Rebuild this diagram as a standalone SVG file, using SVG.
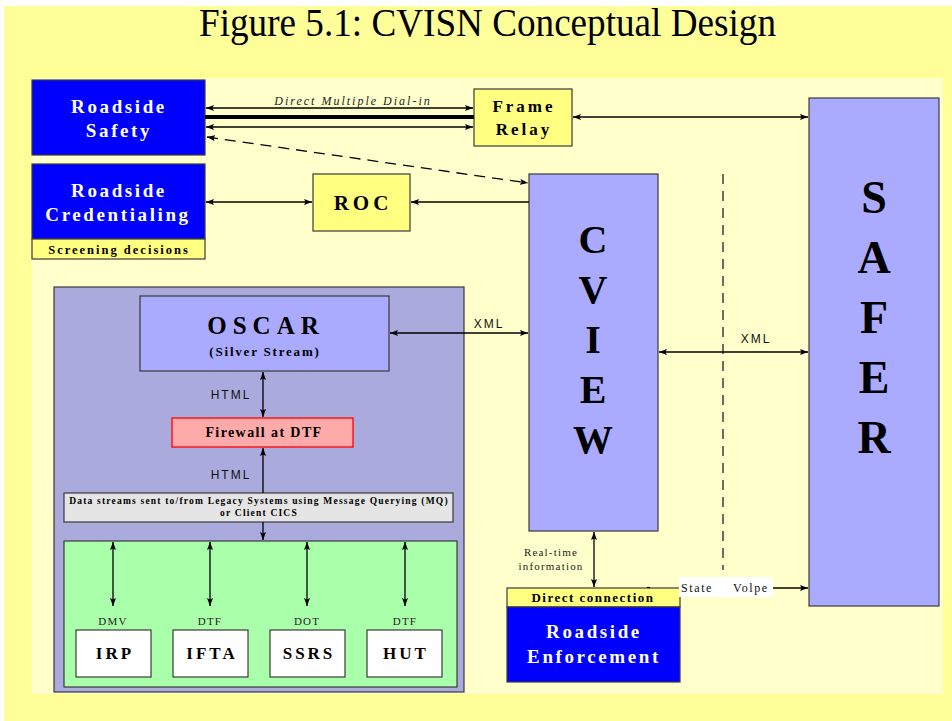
<svg xmlns="http://www.w3.org/2000/svg" width="952" height="721" viewBox="0 0 952 721">
  <style>
    .serif { font-family: "Liberation Serif", "Times New Roman", serif; }
    .sans { font-family: "Liberation Sans", Arial, sans-serif; }
    .box { stroke: #3a3a3a; stroke-width: 1.2; }
    .blue { fill: #0000ff; }
    .violet { fill: #aaaaff; }
    .tan { fill: #ffff80; }
    .wtitle { fill: #ffffff; font-weight: bold; font-size: 19px; letter-spacing: 2.6px; text-anchor: middle; }
    .btitle { fill: #000000; font-weight: bold; text-anchor: middle; }
    .big { font-size: 40px; font-weight: bold; text-anchor: middle; fill: #000; }
    .huge { font-size: 46px; font-weight: bold; text-anchor: middle; fill: #000; }
    .lbl { font-size: 11px; letter-spacing: 1.2px; fill: #222; text-anchor: middle; }
    .xml { font-size: 12px; letter-spacing: 2px; fill: #111; text-anchor: middle; }
    .link { stroke: #000; stroke-width: 1.3; fill: none; }
  </style>
  <defs>
    <marker id="arr" viewBox="0 0 8 6" refX="8" refY="3" markerWidth="8" markerHeight="6" markerUnits="userSpaceOnUse" orient="auto-start-reverse">
      <path d="M0,0 L8,3 L0,6 L1.5,3 z" fill="#000"/>
    </marker>
  </defs>

  <!-- page backgrounds -->
  <rect x="0" y="0" width="952" height="721" fill="#ffffff"/>
  <rect x="4" y="6" width="948" height="715" fill="#ffff99"/>
  <rect x="32" y="78" width="911" height="616" fill="#ffffcc"/>

  <text class="serif" x="487.5" y="36" font-size="40" text-anchor="middle" textLength="577" lengthAdjust="spacingAndGlyphs" fill="#000">Figure 5.1: CVISN Conceptual Design</text>

  <!-- roadside systems -->
  <g id="roadside-safety">
    <rect class="box blue" x="32" y="80" width="173" height="75"/>
    <text class="serif wtitle" x="119" y="113">Roadside</text>
    <text class="serif wtitle" x="119" y="137">Safety</text>
  </g>
  <g id="roadside-credentialing">
    <rect class="box blue" x="32" y="164" width="173" height="75"/>
    <rect class="box tan" x="32" y="239" width="173" height="20"/>
    <text class="serif wtitle" x="119" y="197">Roadside</text>
    <text class="serif wtitle" x="118" y="221" letter-spacing="2.3">Credentialing</text>
    <text class="serif btitle" x="119" y="254" font-size="12.5" letter-spacing="2">Screening decisions</text>
  </g>
  <g id="frame-relay">
    <rect class="box tan" x="474" y="89" width="98" height="57"/>
    <text class="serif btitle" x="524" y="112" font-size="17" letter-spacing="3">Frame</text>
    <text class="serif btitle" x="524" y="135" font-size="17" letter-spacing="3">Relay</text>
  </g>
  <g id="roc">
    <rect class="box tan" x="313" y="174" width="97" height="57"/>
    <text class="serif btitle" x="363" y="210" font-size="21" letter-spacing="4">ROC</text>
  </g>

  <!-- CVIEW and SAFER -->
  <g id="cview">
    <rect class="box violet" x="529" y="174" width="129" height="357"/>
    <text class="serif big" x="593" y="253">C</text>
    <text class="serif big" x="593" y="303">V</text>
    <text class="serif big" x="593" y="353">I</text>
    <text class="serif big" x="593" y="403">E</text>
    <text class="serif big" x="593" y="453">W</text>
  </g>
  <g id="safer">
    <rect class="box violet" x="809" y="98" width="130" height="508"/>
    <text class="serif huge" x="874" y="213">S</text>
    <text class="serif huge" x="874" y="273">A</text>
    <text class="serif huge" x="874" y="333">F</text>
    <text class="serif huge" x="874" y="393">E</text>
    <text class="serif huge" x="874" y="453">R</text>
  </g>
  <g id="roadside-enforcement">
    <rect class="box tan" x="507" y="588" width="173" height="19"/>
    <rect class="box blue" x="507" y="607" width="173" height="75"/>
    <text class="serif btitle" x="593" y="602" font-size="13" letter-spacing="1.5">Direct connection</text>
    <text class="serif wtitle" x="594" y="638">Roadside</text>
    <text class="serif wtitle" x="594" y="663">Enforcement</text>
  </g>

  <!-- OSCAR site -->
  <g id="oscar-site">
    <rect class="box" x="54" y="287" width="410" height="405" fill="#aaaadd"/>
  </g>
  <g id="oscar">
    <rect class="box violet" x="140" y="296" width="249" height="75"/>
    <text class="serif btitle" x="266" y="334" font-size="25" letter-spacing="6">OSCAR</text>
    <text class="serif btitle" x="265" y="356" font-size="13" letter-spacing="1.8">(Silver Stream)</text>
  </g>
  <g id="firewall">
    <rect x="172" y="418" width="181" height="29" fill="#ffaaaa" stroke="#ff0000" stroke-width="1.3"/>
    <text class="serif btitle" x="264" y="437" font-size="14" letter-spacing="1.4">Firewall at DTF</text>
  </g>
  <g id="data-streams">
    <rect class="box" x="64" y="493" width="389" height="29" fill="#e5e5e5"/>
    <text class="serif btitle" x="259" y="504" font-size="9.5" letter-spacing="1.2">Data streams sent to/from Legacy Systems using Message Querying (MQ)</text>
    <text class="serif btitle" x="259" y="516" font-size="9.5" letter-spacing="1.2">or Client CICS</text>
  </g>
  <g id="legacy-systems">
    <rect class="box" x="64" y="541" width="393" height="146" fill="#aaffaa"/>
  </g>
  <g id="irp">
    <text class="serif lbl" x="113" y="625">DMV</text>
    <rect class="box" x="76" y="630" width="75" height="47" fill="#ffffff"/>
    <text class="serif btitle" x="115" y="659" font-size="17" letter-spacing="3">IRP</text>
  </g>
  <g id="ifta">
    <text class="serif lbl" x="210" y="625">DTF</text>
    <rect class="box" x="173" y="630" width="75" height="47" fill="#ffffff"/>
    <text class="serif btitle" x="212" y="659" font-size="17" letter-spacing="3">IFTA</text>
  </g>
  <g id="ssrs">
    <text class="serif lbl" x="307" y="625">DOT</text>
    <rect class="box" x="270" y="630" width="75" height="47" fill="#ffffff"/>
    <text class="serif btitle" x="309" y="659" font-size="17" letter-spacing="3">SSRS</text>
  </g>
  <g id="hut">
    <text class="serif lbl" x="405" y="625">DTF</text>
    <rect class="box" x="367" y="630" width="75" height="47" fill="#ffffff"/>
    <text class="serif btitle" x="406" y="659" font-size="17" letter-spacing="3">HUT</text>
  </g>

  <!-- connectors -->
  <g id="connectors">
    <line class="link" x1="206" y1="108" x2="473" y2="108" marker-start="url(#arr)" marker-end="url(#arr)"/>
    <line x1="205" y1="117" x2="474" y2="117" stroke="#000" stroke-width="4"/>
    <line class="link" x1="206" y1="127" x2="473" y2="127" marker-start="url(#arr)" marker-end="url(#arr)"/>
    <text class="serif" x="353" y="105" font-size="12" font-style="italic" letter-spacing="2" text-anchor="middle" fill="#222">Direct Multiple Dial-in</text>
    <line class="link" x1="207" y1="137" x2="528" y2="183" stroke-dasharray="11,7" marker-start="url(#arr)" marker-end="url(#arr)"/>
    <line class="link" x1="573" y1="117" x2="808" y2="117" marker-start="url(#arr)" marker-end="url(#arr)"/>
    <line class="link" x1="206" y1="202" x2="312" y2="202" marker-start="url(#arr)" marker-end="url(#arr)"/>
    <line class="link" x1="529" y1="202" x2="411" y2="202" marker-end="url(#arr)"/>
    <line x1="723" y1="174" x2="723" y2="570" stroke="#222" stroke-width="1.3" stroke-dasharray="10,7"/>
    <line class="link" x1="659" y1="352" x2="808" y2="352" marker-start="url(#arr)" marker-end="url(#arr)"/>
    <text class="sans xml" x="756" y="343">XML</text>
    <line class="link" x1="390" y1="333" x2="528" y2="333" marker-start="url(#arr)" marker-end="url(#arr)"/>
    <text class="sans xml" x="489" y="328">XML</text>
    <line class="link" x1="594" y1="532" x2="594" y2="587" marker-start="url(#arr)" marker-end="url(#arr)"/>
    <text class="serif lbl" x="551" y="556">Real-time</text>
    <text class="serif lbl" x="551" y="570">information</text>
    <line x1="647" y1="587.5" x2="650" y2="587.5" stroke="#000" stroke-width="1.2"/>
    <line class="link" x1="773" y1="588" x2="808" y2="588" marker-end="url(#arr)"/>
    <rect x="679" y="577" width="94" height="20" fill="#ffffff"/>
    <text class="serif" x="681" y="592" font-size="12" letter-spacing="1.6" fill="#111">State</text>
    <text class="serif" x="733" y="592" font-size="12" letter-spacing="1.6" fill="#111">Volpe</text>
    <line class="link" x1="263" y1="372" x2="263" y2="417" marker-start="url(#arr)" marker-end="url(#arr)"/>
    <text class="sans xml" x="231" y="399" font-size="11">HTML</text>
    <line class="link" x1="263" y1="493" x2="263" y2="448" marker-end="url(#arr)"/>
    <text class="sans xml" x="231" y="479" font-size="11">HTML</text>
    <line class="link" x1="263" y1="522" x2="263" y2="540" marker-end="url(#arr)"/>
    <line class="link" x1="113" y1="542" x2="113" y2="606" marker-start="url(#arr)" marker-end="url(#arr)"/>
    <line class="link" x1="210" y1="542" x2="210" y2="606" marker-start="url(#arr)" marker-end="url(#arr)"/>
    <line class="link" x1="307" y1="542" x2="307" y2="606" marker-start="url(#arr)" marker-end="url(#arr)"/>
    <line class="link" x1="405" y1="542" x2="405" y2="606" marker-start="url(#arr)" marker-end="url(#arr)"/>
  </g>
</svg>
